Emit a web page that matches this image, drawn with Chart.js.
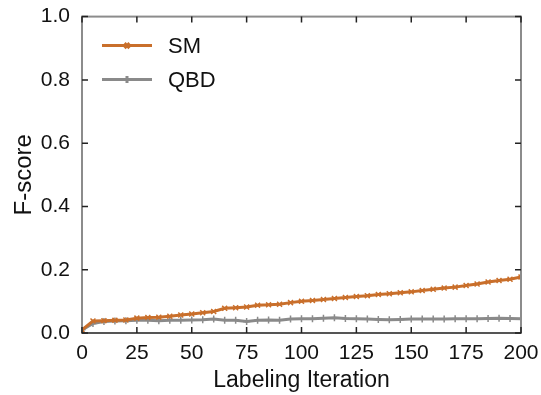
<!DOCTYPE html>
<html>
<head>
<meta charset="utf-8">
<script src="https://cdn.jsdelivr.net/npm/chart.js@4.4.0/dist/chart.umd.min.js"></script>
<style>
  html, body { margin: 0; padding: 0; background: #fff; }
  #wrap { width: 541px; height: 395px; }
</style>
</head>
<body>
<div id="wrap"><canvas id="fscoreChart" width="541" height="395"></canvas></div>
<script>
const iterations = [0, 5, 10, 15, 20, 25, 30, 35, 40, 45, 50, 55, 60, 65, 70, 75, 80, 85, 90, 95,
    100, 105, 110, 115, 120, 125, 130, 135, 140, 145, 150, 155, 160, 165, 170, 175, 180, 185, 190, 195, 200];

const smScores = [0.010, 0.038, 0.039, 0.040, 0.041, 0.047, 0.049, 0.050, 0.053, 0.057, 0.060, 0.064, 0.068, 0.078, 0.080, 0.082,
    0.088, 0.089, 0.091, 0.096, 0.100, 0.103, 0.106, 0.109, 0.112, 0.115, 0.118, 0.122, 0.124, 0.127,
    0.130, 0.134, 0.138, 0.142, 0.145, 0.150, 0.155, 0.161, 0.166, 0.170, 0.177];

const qbdScores = [0.010, 0.030, 0.036, 0.038, 0.039, 0.040, 0.040, 0.039, 0.040, 0.040, 0.041, 0.042, 0.044, 0.040, 0.040, 0.036,
    0.040, 0.041, 0.040, 0.044, 0.045, 0.045, 0.047, 0.048, 0.046, 0.045, 0.044, 0.043, 0.042, 0.043,
    0.044, 0.044, 0.044, 0.044, 0.045, 0.045, 0.045, 0.046, 0.047, 0.046, 0.045];

const yTicks = [0, 0.2, 0.4, 0.6, 0.8, 1.0];
const xTicks = [0, 25, 50, 75, 100, 125, 150, 175, 200];

document.addEventListener("DOMContentLoaded", function () {
    const canvas = document.getElementById("fscoreChart");
    const ctx = canvas.getContext("2d");

    if (typeof Chart === "undefined") {
        console.error("Chart.js not loaded");
        return;
    }

    const orange = "#C96F2B";
    const grey = "#8A8A8A";
    const font = "'Liberation Sans', Arial, sans-serif";

    const toPoints = vals => vals.map((v, i) => ({ x: iterations[i], y: v }));

    // frame with inward ticks on all four sides + legend inside plot
    const framePlugin = {
        id: "frame",
        afterDraw(chart) {
            const { ctx, chartArea: a, scales } = chart;
            ctx.save();
            ctx.strokeStyle = "#8c8c8c";
            ctx.lineWidth = 2;
            ctx.strokeRect(a.left, a.top, a.right - a.left, a.bottom - a.top);
            ctx.strokeStyle = "#555";
            ctx.beginPath();
            ctx.moveTo(a.left, a.bottom); ctx.lineTo(a.right, a.bottom);
            ctx.stroke();
            ctx.strokeStyle = "#222";
            ctx.lineWidth = 1.5;
            const len = 6;
            ctx.beginPath();
            xTicks.forEach(t => {
                const px = scales.x.getPixelForValue(t);
                ctx.moveTo(px, a.bottom); ctx.lineTo(px, a.bottom - len);
                ctx.moveTo(px, a.top); ctx.lineTo(px, a.top + len);
            });
            yTicks.forEach(t => {
                const py = scales.y.getPixelForValue(t);
                ctx.moveTo(a.left, py); ctx.lineTo(a.left + len, py);
                ctx.moveTo(a.right, py); ctx.lineTo(a.right - len, py);
            });
            ctx.stroke();

            // legend
            chart.data.datasets.forEach((ds, i) => {
                const y = a.top + 29 + i * 34;
                const x0 = a.left + 20, x1 = a.left + 70;
                ctx.strokeStyle = ds.borderColor;
                ctx.lineWidth = 3;
                ctx.beginPath();
                ctx.moveTo(x0, y); ctx.lineTo(x1, y);
                ctx.stroke();
                Chart.helpers.drawPoint(ctx, {
                    pointStyle: ds.pointStyle, radius: ds.pointRadius,
                    borderWidth: ds.pointBorderWidth
                }, (x0 + x1) / 2, y);
                ctx.fillStyle = "#111";
                ctx.font = "22px " + font;
                ctx.textBaseline = "middle";
                ctx.fillText(ds.label, a.left + 86, y + 1);
            });
            ctx.restore();
        }
    };

    new Chart(ctx, {
        type: "line",
        data: {
            datasets: [{
                label: "SM",
                data: toPoints(smScores),
                borderColor: orange,
                backgroundColor: orange,
                borderWidth: 3,
                pointStyle: "crossRot",
                pointRadius: 3.5,
                pointBorderWidth: 1.5,
                pointBorderColor: orange,
                tension: 0
            }, {
                label: "QBD",
                data: toPoints(qbdScores),
                borderColor: grey,
                backgroundColor: grey,
                borderWidth: 3,
                pointStyle: "cross",
                pointRadius: 3.5,
                pointBorderWidth: 1.5,
                pointBorderColor: grey,
                tension: 0
            }]
        },
        options: {
            responsive: false,
            animation: false,
            layout: { padding: { top: 15, right: 20, left: 0, bottom: 0 } },
            plugins: {
                legend: { display: false },
                tooltip: { enabled: false }
            },
            scales: {
                x: {
                    type: "linear",
                    min: 0,
                    max: 200,
                    afterBuildTicks: s => { s.ticks = xTicks.map(v => ({ value: v })); },
                    grid: { display: false },
                    border: { display: false },
                    ticks: { color: "#111", font: { family: font, size: 21 }, padding: 0, maxRotation: 0 },
                    title: {
                        display: true, text: "Labeling Iteration", color: "#111",
                        font: { family: font, size: 23 }, padding: { top: 0, bottom: 1 }
                    },
                    afterFit: s => { s.height = 62; }
                },
                y: {
                    min: 0,
                    max: 1,
                    afterBuildTicks: s => { s.ticks = yTicks.map(v => ({ value: v })); },
                    grid: { display: false },
                    border: { display: false },
                    ticks: {
                        color: "#111", font: { family: font, size: 21 }, padding: 4,
                        callback: v => v.toFixed(1)
                    },
                    title: {
                        display: true, text: "F-score", color: "#111",
                        font: { family: font, size: 24 }, padding: { top: 10, bottom: 0 }
                    },
                    afterFit: s => { s.width = 82; }
                }
            }
        },
        plugins: [framePlugin]
    });
});
</script>
</body>
</html>
